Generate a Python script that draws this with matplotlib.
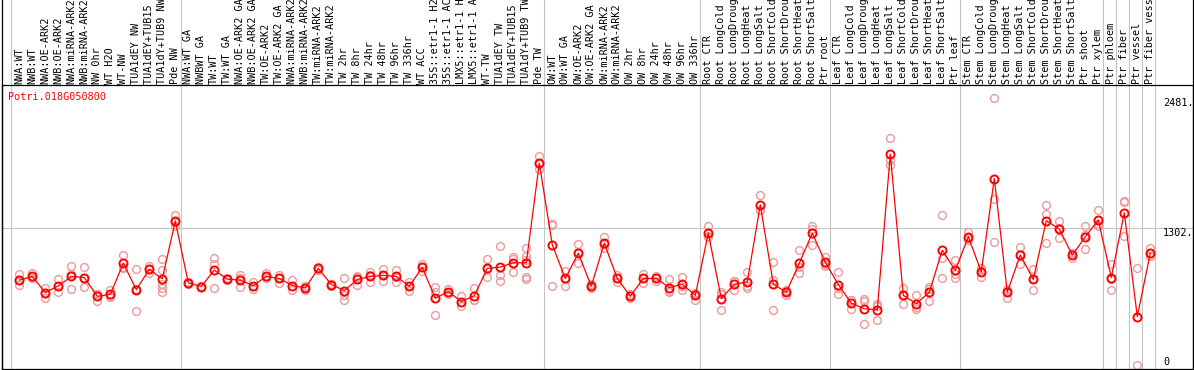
import matplotlib
matplotlib.use('Agg')
import matplotlib.pyplot as plt
from matplotlib.lines import Line2D
from matplotlib.transforms import blended_transform_factory as btf

gene = "Potri.018G050800"

labels = [
    "NWA:WT", "NWB:WT", "NWA:OE-ARK2", "NWB:OE-ARK2", "NWA:miRNA-ARK2", "NWB:miRNA-ARK2",
    "NW 0hr", "WT H2O", "WT-NW", "TUA1dEY NW", "TUA1dEY+TUB15 NW", "TUA1dY+TUB9 NW", "Pde NW",
    "NWA:WT GA", "NWBWT GA", "TW:WT", "TW:WT GA", "NWA:OE-ARK2 GA", "NWB:OE-ARK2 GA",
    "TW:OE-ARK2", "TW:OE-ARK2 GA", "NWA:miRNA-ARK2 GA", "NWB:miRNA-ARK2 GA", "TW:miRNA-ARK2",
    "TW:miRNA-ARK2 GA", "TW 2hr", "TW 8hr", "TW 24hr", "TW 48hr", "TW 96hr", "TW 336hr",
    "WT ACC", "35S::etr1-1 H2O", "35S::etr1-1 ACC", "LMX5::etr1-1 H2O", "LMX5::etr1-1 ACC",
    "WT-TW", "TUA1dEY TW", "TUA1dEY+TUB15 TW", "TUA1dY+TUB9 TW", "Pde TW",
    "OW:WT", "OW:WT GA", "OW:OE-ARK2", "OW:OE-ARK2 GA", "OW:miRNA-ARK2", "OW:miRNA-ARK2 GA",
    "OW 2hr", "OW 8hr", "OW 24hr", "OW 48hr", "OW 96hr", "OW 336hr",
    "Root CTR", "Root LongCold", "Root LongDrought", "Root LongHeat", "Root LongSalt",
    "Root ShortCold", "Root ShortDrought", "Root ShortHeat", "Root ShortSalt", "Ptr root",
    "Leaf CTR", "Leaf LongCold", "Leaf LongDrought", "Leaf LongHeat", "Leaf LongSalt",
    "Leaf ShortCold", "Leaf ShortDrought", "Leaf ShortHeat", "Leaf ShortSalt", "Ptr leaf",
    "Stem CTR", "Stem LongCold", "Stem LongDrought", "Stem LongHeat", "Stem LongSalt",
    "Stem ShortCold", "Stem ShortDrought", "Stem ShortHeat", "Stem ShortSalt", "Ptr shoot",
    "Ptr xylem", "Ptr phloem", "Ptr fiber", "Ptr vessel", "Ptr fiber vessel",
]

means = [
    826, 860, 713, 773, 860, 850, 679, 697, 979, 740, 924, 838, 1364,
    801, 768, 917, 835, 826, 777, 860, 841, 777, 755, 933, 786, 731, 832, 860, 869, 860,
    771, 942, 661, 722, 630, 685, 933, 945, 984, 984, 1890,
    1147, 841, 1071, 771, 1162, 841, 679, 841, 841, 759, 789, 688,
    1254, 658, 789, 810, 1511, 789, 716, 979, 1254, 988,
    786, 617, 566, 557, 1970, 688, 612, 716, 1098, 915,
    1220, 902, 1750, 716, 1055, 832, 1367, 1291, 1055, 1220, 1373,
    850, 1438, 495, 1071,
]

reps = [
    [881, 826, 786], [887, 850, 841], [755, 663, 713], [835, 718, 771], [951, 750, 878],
    [942, 768, 844], [704, 636, 697], [740, 672, 679], [1055, 942, 939], [924, 550, 746],
    [954, 893, 924], [1016, 917, 795, 759, 718], [1422, 1315, 1355],
    [810, 789, 805], [771, 768, 764], [1025, 972, 759], [844, 835, 826], [872, 764, 841],
    [810, 750, 771], [887, 841, 850], [874, 801, 847], [826, 734, 771], [771, 755, 740],
    [945, 933, 920], [795, 771, 792], [850, 694, 649], [856, 780, 860], [899, 807, 872],
    [924, 814, 869], [915, 810, 853], [810, 728, 773], [972, 911, 942], [764, 718, 505],
    [746, 704, 716], [679, 587, 624], [759, 649, 649], [1018, 856, 924], [1138, 872, 814],
    [1034, 899, 1021], [1117, 1046, 1009, 856, 832], [1951, 1835, 1883],
    [1324, 1339, 777], [911, 777, 835], [1153, 979, 1080], [789, 771, 752], [1214, 1117, 1156],
    [872, 810, 841], [697, 679, 661], [878, 801, 844], [862, 819, 841], [832, 718, 725],
    [856, 740, 771], [704, 649, 713],
    [1321, 1223, 1217], [718, 557, 697], [817, 734, 817], [902, 759, 771], [1596, 1468, 1468],
    [988, 557, 823], [734, 688, 725], [1101, 893, 942], [1321, 1147, 1294], [1039, 954, 970],
    [896, 704, 759], [642, 566, 645], [658, 428, 633], [612, 465, 594], [2117, 1920, 1872],
    [759, 612, 694], [688, 566, 581], [764, 633, 750], [1419, 1025, 850], [1009, 881, 841],
    [1260, 1193, 1208], [933, 856, 917], [2481, 1566, 1177], [750, 667, 731], [1131, 972, 1061],
    [924, 740, 832], [1511, 1431, 1162], [1367, 1208, 1296], [1071, 1025, 1071],
    [1315, 1107, 1239], [1468, 1315, 1337],
    [972, 740, 838], [1550, 1535, 1223], [933, 55], [1117, 1046, 1049],
]

group_ends = [12, 40, 52, 62, 72, 83, 84, 85, 86, 87]
ytick_vals = [2481, 1302, 0]
ytick_text = ["2481.", "1302.", "0"]

W, H = 1194, 370
fig = plt.figure(figsize=(W / 100, H / 100), dpi=100)
fig.patch.set_facecolor('white')
ax = fig.add_axes([2 / W, 1 / H, 1191 / W, 284 / H])
ax.set_xlim(-1.331, 90.285)
ax.set_ylim(18.2, 2600)
ax.set_xticks([])
ax.set_yticks([])
for s in ax.spines.values():
    s.set_color('black')
    s.set_linewidth(0.9)

GRAY = '#c4c4c4'
RED = '#ff0000'
PINK = '#ec9a9c'
FONT = 'DejaVu Sans Mono'

# group separator lines, extended up through the label area
ext = (369) / 284.0
ax.axvline(-0.65, 0, ext, color=GRAY, lw=0.8, clip_on=False, zorder=1)
for g in group_ends:
    ax.axvline(g + 0.4, 0, ext, color=GRAY, lw=0.8, clip_on=False, zorder=1)

# reference horizontal line
ax.axhline(ytick_vals[1], color=GRAY, lw=0.8, zorder=1)

# outer borders through label area
for xp in (2, 1193):
    fig.add_artist(Line2D([xp / W, xp / W], [1 / H, 1.0], color='black', lw=0.9,
                          transform=fig.transFigure))

# replicate points
for i, r in enumerate(reps):
    ax.plot([i] * len(r), r, linestyle='none', marker='o', ms=5.6, mfc='none',
            mec=PINK, mew=1.0, zorder=2)

xs = list(range(len(means)))
ax.plot(xs, means, color=RED, lw=0.9, zorder=3)
ax.plot(xs, means, linestyle='none', marker='o', ms=5.8, mfc='none', mec=RED,
        mew=1.4, zorder=4)

# sample labels (rotated)
tr = btf(ax.transData, fig.transFigure)
for i, lab in enumerate(labels):
    ax.text(i, 1 - 84 / H, lab, rotation=90, ha='center', va='bottom',
            fontsize=7.3, family=FONT, transform=tr, clip_on=False)

# y labels
ax.text(88.0, ytick_vals[0], ytick_text[0], ha='left', va='top', fontsize=7.3, family=FONT)
ax.text(88.0, ytick_vals[1], ytick_text[1], ha='left', va='top', fontsize=7.3, family=FONT)
ax.text(88.0, 80, ytick_text[2], ha='left', va='center', fontsize=7.3, family=FONT)

# gene name
fig.text(8 / W, 1 - 97 / H, gene, color=RED, ha='left', va='center', fontsize=7.3, family=FONT)

fig.savefig('out.png', dpi=100, facecolor='white')
